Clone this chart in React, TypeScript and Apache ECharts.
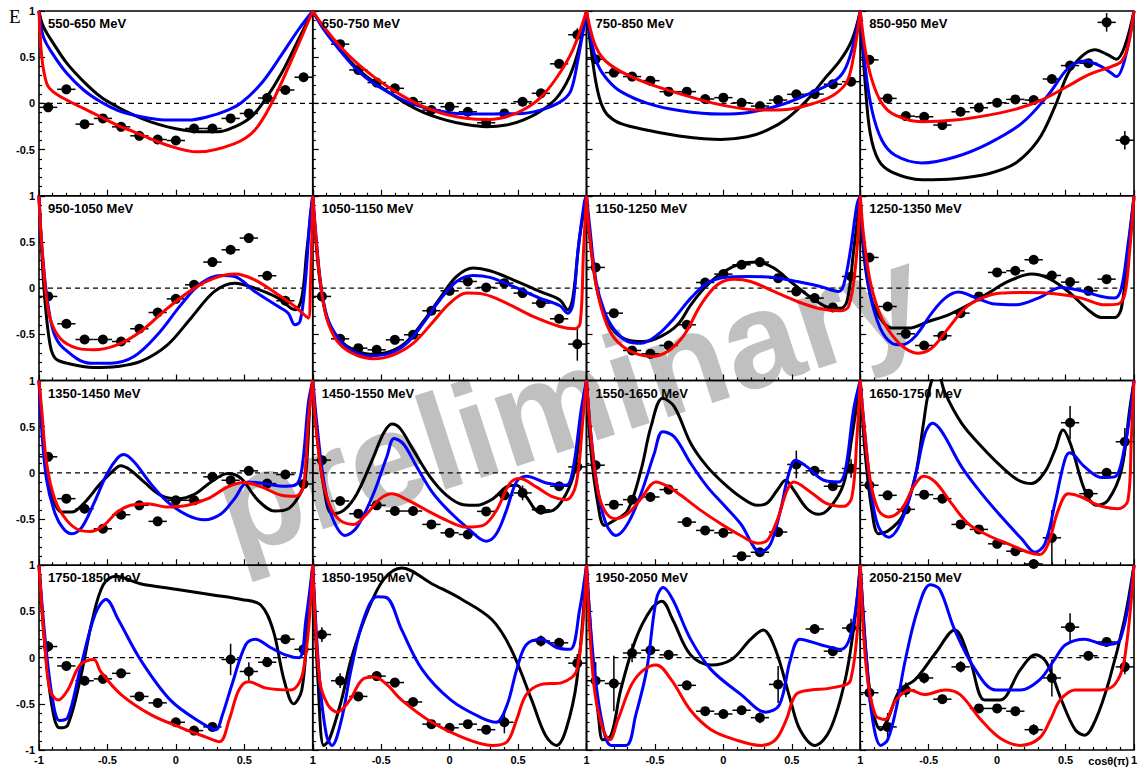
import React, { useEffect, useRef } from "react";
import * as echarts from "echarts";

type Pts = number[][];

const TITLES = [
  "550-650 MeV", "650-750 MeV", "750-850 MeV", "850-950 MeV",
  "950-1050 MeV", "1050-1150 MeV", "1150-1250 MeV", "1250-1350 MeV",
  "1350-1450 MeV", "1450-1550 MeV", "1550-1650 MeV", "1650-1750 MeV",
  "1750-1850 MeV", "1850-1950 MeV", "1950-2050 MeV", "2050-2150 MeV",
];

// data points: [cos(theta), E, vertical error]
const pts550: Pts = [[-0.933,-0.043,0.02],[-0.8,0.152,0.02],[-0.667,-0.225,0.02],[-0.533,-0.163,0.02],[-0.4,-0.254,0.02],[-0.267,-0.351,0.02],[-0.133,-0.391,0.02],[0,-0.402,0.02],[0.133,-0.272,0.02],[0.267,-0.272,0.02],[0.4,-0.163,0.02],[0.533,-0.109,0.02],[0.667,0.058,0.02],[0.8,0.145,0.02],[0.933,0.283,0.02]];
const blk550: Pts = [[-1,1],[-0.968,0.83],[-0.895,0.65],[-0.797,0.435],[-0.674,0.236],[-0.55,0.072],[-0.43,-0.036],[-0.306,-0.127],[-0.184,-0.2],[-0.061,-0.254],[0.061,-0.29],[0.184,-0.308],[0.306,-0.308],[0.429,-0.254],[0.551,-0.145],[0.65,0.036],[0.772,0.326],[0.895,0.69],[1,1]];
const blu550: Pts = [[-1,1],[-0.968,0.72],[-0.895,0.525],[-0.797,0.326],[-0.674,0.145],[-0.55,0.018],[-0.43,-0.072],[-0.306,-0.127],[-0.184,-0.163],[-0.061,-0.181],[0.086,-0.181],[0.233,-0.145],[0.38,-0.072],[0.478,0.007],[0.625,0.217],[0.772,0.525],[0.895,0.797],[1,1]];
const red550: Pts = [[-1,1],[-0.98,0.507],[-0.944,0.217],[-0.9,0.13],[-0.797,0.036],[-0.674,-0.054],[-0.55,-0.145],[-0.43,-0.235],[-0.306,-0.308],[-0.061,-0.453],[0.159,-0.525],[0.429,-0.435],[0.576,-0.29],[0.699,0.0],[0.846,0.471],[1,1]];

const pts650: Pts = [[-0.8,0.641,0.03],[-0.667,0.362,0.02],[-0.533,0.225,0.02],[-0.4,0.163,0.02],[-0.267,0.018,0.02],[-0.133,-0.072,0.02],[0,-0.036,0.02],[0.133,-0.091,0.02],[0.267,-0.21,0.02],[0.4,-0.109,0.02],[0.533,0.018,0.02],[0.667,0.109,0.02],[0.8,0.428,0.02],[0.933,0.743,0.07]];
const blk650: Pts = [[-1,1],[-0.92,0.815],[-0.8,0.58],[-0.677,0.38],[-0.556,0.235],[-0.434,0.109],[-0.313,-0.007],[-0.192,-0.098],[-0.07,-0.163],[0.051,-0.21],[0.172,-0.239],[0.269,-0.254],[0.415,-0.235],[0.536,-0.181],[0.658,-0.091],[0.779,0.054],[0.876,0.29],[0.949,0.616],[1,1]];
const blu650: Pts = [[-1,1],[-0.92,0.8],[-0.8,0.57],[-0.677,0.362],[-0.556,0.217],[-0.434,0.109],[-0.313,0.018],[-0.192,-0.043],[-0.07,-0.083],[0.051,-0.109],[0.294,-0.116],[0.536,-0.109],[0.706,-0.054],[0.828,0.036],[0.888,0.145],[0.937,0.471],[1,1]];
const red650: Pts = [[-1,1],[-0.92,0.83],[-0.8,0.616],[-0.677,0.435],[-0.556,0.29],[-0.434,0.163],[-0.313,0.054],[-0.192,-0.036],[-0.07,-0.101],[0.051,-0.145],[0.172,-0.17],[0.294,-0.174],[0.415,-0.145],[0.536,-0.072],[0.658,0.054],[0.779,0.272],[0.9,0.58],[1,1]];

const pts750: Pts = [[-0.933,0.478,0.02],[-0.8,0.333,0.02],[-0.667,0.29,0.02],[-0.533,0.246,0.02],[-0.4,0.127,0.02],[-0.267,0.127,0.02],[-0.133,0.047,0.02],[0,0.062,0.02],[0.133,0.007,0.02],[0.267,-0.029,0.02],[0.4,0.036,0.02],[0.533,0.098,0.02],[0.667,0.101,0.02],[0.8,0.207,0.02],[0.933,0.235,0.02]];
const blk750: Pts = [[-1,1],[-0.966,0.58],[-0.93,0.217],[-0.893,0],[-0.845,-0.127],[-0.748,-0.22],[-0.553,-0.29],[-0.311,-0.355],[-0.019,-0.391],[0.175,-0.362],[0.32,-0.29],[0.466,-0.163],[0.612,0.036],[0.733,0.254],[0.854,0.467],[0.939,0.685],[1,1]];
const blu750: Pts = [[-1,1],[-0.966,0.685],[-0.917,0.417],[-0.845,0.254],[-0.748,0.127],[-0.553,0],[-0.311,-0.08],[-0.019,-0.116],[0.175,-0.101],[0.417,-0.018],[0.66,0.127],[0.806,0.235],[0.879,0.344],[0.939,0.58],[1,1]];
const red750: Pts = [[-1,1],[-0.942,0.652],[-0.869,0.471],[-0.748,0.344],[-0.553,0.217],[-0.311,0.101],[-0.068,0],[0.126,-0.054],[0.272,-0.072],[0.466,-0.065],[0.66,0],[0.806,0.091],[0.903,0.235],[0.951,0.507],[1,1]];

const pts850: Pts = [[-0.933,0.471,0.02],[-0.8,0.054,0.02],[-0.667,-0.138,0.02],[-0.533,-0.145,0.02],[-0.4,-0.235,0.02],[-0.267,-0.091,0.02],[-0.133,-0.047,0.02],[0,0.007,0.02],[0.133,0.043,0.02],[0.267,0.036,0.02],[0.4,0.264,0.02],[0.533,0.409,0.02],[0.667,0.435,0.02],[0.8,0.877,0.1],[0.933,-0.399,0.1]];
const blk850: Pts = [[-1,1],[-0.964,0.217],[-0.927,-0.326],[-0.866,-0.616],[-0.769,-0.743],[-0.55,-0.826],[-0.307,-0.815],[-0.064,-0.761],[0.13,-0.652],[0.3,-0.399],[0.422,-0.036],[0.519,0.326],[0.616,0.507],[0.713,0.58],[0.81,0.525],[0.871,0.478],[0.932,0.616],[1,1]];
const blu850: Pts = [[-1,1],[-0.964,0.399],[-0.915,-0.072],[-0.842,-0.399],[-0.745,-0.562],[-0.55,-0.645],[-0.307,-0.58],[-0.064,-0.435],[0.179,-0.217],[0.373,0.091],[0.519,0.38],[0.64,0.46],[0.762,0.399],[0.835,0.326],[0.871,0.29],[0.932,0.471],[1,1]];
const red850: Pts = [[-1,1],[-0.964,0.58],[-0.915,0.254],[-0.842,0],[-0.745,-0.127],[-0.55,-0.199],[-0.307,-0.181],[-0.064,-0.127],[0.13,-0.065],[0.324,0.036],[0.519,0.188],[0.665,0.308],[0.835,0.399],[0.908,0.453],[0.956,0.616],[1,1]];

const pts950: Pts = [[-0.933,-0.09,0.02],[-0.8,-0.386,0.02],[-0.667,-0.556,0.02],[-0.533,-0.556,0.02],[-0.4,-0.578,0.02],[-0.267,-0.44,0.02],[-0.133,-0.264,0.02],[0,-0.116,0.02],[0.133,0.036,0.02],[0.267,0.282,0.02],[0.4,0.415,0.02],[0.533,0.542,0.02],[0.667,0.134,0.02],[0.8,-0.137,0.02]];
const blk950: Pts = [[-1,1],[-0.98,0.397],[-0.956,-0.144],[-0.919,-0.614],[-0.882,-0.758],[-0.797,-0.812],[-0.6,-0.859],[-0.429,-0.848],[-0.257,-0.794],[-0.061,-0.614],[0.11,-0.325],[0.282,-0.036],[0.429,0.054],[0.576,0],[0.748,-0.108],[0.87,-0.235],[0.919,-0.108],[0.956,0.397],[1,1]];
const blu950: Pts = [[-1,1],[-0.98,0.469],[-0.944,-0.072],[-0.895,-0.469],[-0.821,-0.65],[-0.625,-0.812],[-0.478,-0.812],[-0.306,-0.74],[-0.135,-0.505],[0.037,-0.181],[0.184,0.054],[0.331,0.137],[0.429,0.126],[0.576,-0.036],[0.748,-0.199],[0.821,-0.271],[0.87,-0.397],[0.907,-0.361],[0.944,0.036],[0.98,0.758],[1,1]];
const red950: Pts = [[-1,1],[-0.993,0.758],[-0.956,0.036],[-0.919,-0.325],[-0.846,-0.542],[-0.723,-0.65],[-0.6,-0.668],[-0.429,-0.614],[-0.257,-0.469],[-0.061,-0.217],[0.135,0],[0.282,0.108],[0.429,0.152],[0.576,0.09],[0.748,-0.072],[0.87,-0.199],[0.968,-0.325],[0.983,0.036],[1,0.975]];

const pts1050: Pts = [[-0.933,-0.09,0.02],[-0.8,-0.549,0.02],[-0.667,-0.65,0.02],[-0.533,-0.668,0.02],[-0.4,-0.56,0.02],[-0.267,-0.505,0.02],[-0.133,-0.245,0.02],[0,-0.029,0.02],[0.133,0.072,0.02],[0.267,0.007,0.02],[0.4,0.054,0.02],[0.533,-0.054,0.02],[0.667,-0.162,0.02],[0.8,-0.332,0.02],[0.933,-0.606,0.18]];
const blk1050: Pts = [[-1,1],[-0.981,0.578],[-0.944,0.036],[-0.896,-0.325],[-0.823,-0.523],[-0.726,-0.65],[-0.58,-0.715],[-0.434,-0.686],[-0.313,-0.578],[-0.192,-0.361],[-0.07,-0.108],[0.051,0.126],[0.172,0.217],[0.294,0.188],[0.464,0.09],[0.658,-0.036],[0.803,-0.126],[0.864,-0.235],[0.9,-0.108],[0.949,0.542],[1,1]];
const blu1050: Pts = [[-1,1],[-0.981,0.65],[-0.944,0.072],[-0.896,-0.307],[-0.823,-0.523],[-0.726,-0.668],[-0.58,-0.733],[-0.434,-0.704],[-0.313,-0.596],[-0.192,-0.379],[-0.07,-0.126],[0.051,0.072],[0.172,0.137],[0.294,0.116],[0.464,0.018],[0.658,-0.108],[0.803,-0.188],[0.864,-0.271],[0.9,-0.181],[0.937,0.397],[0.985,0.939],[1,1]];
const red1050: Pts = [[-1,1],[-0.968,0.397],[-0.932,-0.072],[-0.883,-0.397],[-0.799,-0.614],[-0.677,-0.729],[-0.556,-0.765],[-0.41,-0.722],[-0.265,-0.596],[-0.119,-0.361],[0.002,-0.162],[0.124,-0.054],[0.245,-0.065],[0.415,-0.162],[0.609,-0.307],[0.803,-0.415],[0.913,-0.44],[0.954,-0.379],[0.978,0.397],[1,1]];

const pts1150: Pts = [[-0.933,0.224,0.02],[-0.8,-0.271,0.02],[-0.667,-0.675,0.02],[-0.533,-0.711,0.02],[-0.4,-0.621,0.02],[-0.267,-0.397,0.02],[-0.133,0.061,0.02],[0,0.152,0.02],[0.133,0.253,0.02],[0.267,0.282,0.02],[0.4,0.108,0.02],[0.533,-0.036,0.02],[0.667,-0.108,0.02],[0.8,-0.209,0.02],[0.933,0.126,0.05]];
const blk1150: Pts = [[-1,1],[-0.978,0.578],[-0.93,0.036],[-0.869,-0.289],[-0.796,-0.469],[-0.699,-0.56],[-0.578,-0.578],[-0.456,-0.523],[-0.335,-0.397],[-0.238,-0.181],[-0.117,0.036],[0.005,0.181],[0.126,0.264],[0.248,0.282],[0.369,0.217],[0.49,0.072],[0.612,-0.072],[0.733,-0.188],[0.842,-0.235],[0.903,-0.144],[0.951,0.397],[1,1]];
const blu1150: Pts = [[-1,1],[-0.978,0.686],[-0.93,0.072],[-0.869,-0.253],[-0.796,-0.451],[-0.699,-0.578],[-0.602,-0.596],[-0.481,-0.505],[-0.359,-0.325],[-0.238,-0.108],[-0.117,0.054],[0.005,0.116],[0.175,0.126],[0.369,0.116],[0.539,0.072],[0.709,0.018],[0.842,-0.036],[0.879,0.036],[0.927,0.397],[0.976,0.903],[1,1]];
const red1150: Pts = [[-1,1],[-0.978,0.578],[-0.93,0.036],[-0.869,-0.325],[-0.796,-0.542],[-0.675,-0.686],[-0.529,-0.74],[-0.408,-0.686],[-0.286,-0.505],[-0.165,-0.181],[-0.044,0.036],[0.078,0.097],[0.199,0.072],[0.369,-0.036],[0.539,-0.144],[0.709,-0.224],[0.854,-0.245],[0.915,-0.199],[0.964,0.217],[1,1]];

const pts1250: Pts = [[-0.933,0.332,0.02],[-0.8,-0.199,0.02],[-0.667,-0.495,0.02],[-0.533,-0.621,0.02],[-0.4,-0.516,0.02],[-0.267,-0.271,0.02],[-0.133,-0.09,0.02],[0,0.17,0.02],[0.133,0.188,0.02],[0.267,0.307,0.02],[0.4,0.137,0.02],[0.533,0.065,0.02],[0.667,-0.029,0.02],[0.8,0.097,0.02]];
const blk1250: Pts = [[-1,1],[-0.976,0.397],[-0.927,-0.072],[-0.854,-0.325],[-0.769,-0.433],[-0.648,-0.433],[-0.502,-0.361],[-0.356,-0.289],[-0.21,-0.181],[-0.064,-0.054],[0.081,0.072],[0.252,0.152],[0.373,0.108],[0.519,-0.036],[0.665,-0.235],[0.762,-0.318],[0.859,-0.318],[0.908,-0.217],[0.956,0.397],[1,1]];
const blu1250: Pts = [[-1,1],[-0.976,0.469],[-0.927,-0.072],[-0.854,-0.433],[-0.769,-0.596],[-0.696,-0.614],[-0.599,-0.523],[-0.478,-0.271],[-0.38,-0.108],[-0.283,-0.043],[-0.162,-0.101],[-0.016,-0.173],[0.13,-0.181],[0.3,-0.108],[0.47,0.007],[0.616,-0.029],[0.762,-0.09],[0.859,-0.108],[0.908,0],[0.956,0.469],[1,0.975]];
const red1250: Pts = [[-1,1],[-0.976,0.578],[-0.927,0.072],[-0.854,-0.289],[-0.769,-0.505],[-0.672,-0.65],[-0.575,-0.704],[-0.478,-0.65],[-0.356,-0.433],[-0.234,-0.217],[-0.113,-0.108],[0.033,-0.054],[0.227,-0.047],[0.422,-0.061],[0.616,-0.108],[0.786,-0.181],[0.883,-0.173],[0.932,-0.072],[0.968,0.397],[1,1]];

const pts1350: Pts = [[-0.933,0.174,0.02],[-0.8,-0.279,0.02],[-0.667,-0.388,0.02],[-0.533,-0.605,0.02],[-0.4,-0.453,0.02],[-0.267,-0.351,0.02],[-0.133,-0.525,0.02],[0,-0.297,0.02],[0.133,-0.297,0.02],[0.267,-0.043,0.02],[0.4,-0.08,0.02],[0.533,0.022,0.02],[0.667,-0.116,0.02],[0.8,-0.018,0.02],[0.933,-0.12,0.02]];
const blk1350: Pts = [[-1,1],[-0.98,0.572],[-0.944,0.029],[-0.895,-0.297],[-0.833,-0.424],[-0.76,-0.424],[-0.674,-0.333],[-0.551,-0.116],[-0.453,0.029],[-0.404,0.076],[-0.331,0.029],[-0.233,-0.098],[-0.11,-0.243],[0.012,-0.279],[0.135,-0.232],[0.257,-0.098],[0.38,-0.007],[0.478,-0.062],[0.6,-0.297],[0.723,-0.413],[0.821,-0.388],[0.895,-0.261],[0.944,-0.08],[0.98,0.757],[1,1]];
const blu1350: Pts = [[-1,1],[-0.98,0.464],[-0.944,-0.08],[-0.882,-0.442],[-0.821,-0.605],[-0.76,-0.659],[-0.686,-0.587],[-0.6,-0.333],[-0.502,-0.007],[-0.429,0.156],[-0.38,0.199],[-0.306,0.12],[-0.184,-0.116],[-0.061,-0.315],[0.086,-0.46],[0.208,-0.507],[0.331,-0.442],[0.429,-0.279],[0.527,-0.098],[0.65,-0.116],[0.772,-0.145],[0.87,-0.134],[0.919,0.029],[0.968,0.757],[1,1]];
const red1350: Pts = [[-1,1],[-0.98,0.681],[-0.944,0.101],[-0.882,-0.297],[-0.797,-0.514],[-0.699,-0.623],[-0.625,-0.634],[-0.527,-0.569],[-0.429,-0.424],[-0.331,-0.351],[-0.208,-0.333],[-0.061,-0.37],[0.086,-0.351],[0.233,-0.279],[0.38,-0.152],[0.502,-0.105],[0.625,-0.152],[0.772,-0.243],[0.87,-0.254],[0.931,-0.152],[0.968,0.572],[1,1]];

const pts1450: Pts = [[-0.933,0.138,0.02],[-0.8,-0.304,0.02],[-0.667,-0.442,0.02],[-0.533,-0.351,0.02],[-0.4,-0.413,0.02],[-0.267,-0.413,0.02],[-0.133,-0.558,0.02],[0,-0.649,0.02],[0.133,-0.667,0.02],[0.267,-0.417,0.02],[0.4,-0.243,0.02],[0.533,-0.217,0.08],[0.667,-0.399,0.02],[0.8,-0.145,0.02],[0.933,0.065,0.02]];
const blk1450: Pts = [[-1,1],[-0.968,0.391],[-0.92,-0.152],[-0.859,-0.442],[-0.774,-0.406],[-0.677,-0.225],[-0.556,0.174],[-0.483,0.428],[-0.422,0.529],[-0.362,0.482],[-0.265,0.246],[-0.143,-0.043],[-0.022,-0.243],[0.1,-0.344],[0.197,-0.351],[0.318,-0.279],[0.415,-0.152],[0.488,-0.134],[0.561,-0.261],[0.658,-0.424],[0.755,-0.406],[0.852,-0.225],[0.913,0.029],[0.961,0.572],[1,1]];
const blu1450: Pts = [[-1,1],[-0.968,0.5],[-0.92,-0.08],[-0.859,-0.478],[-0.762,-0.678],[-0.677,-0.587],[-0.556,-0.225],[-0.459,0.174],[-0.405,0.373],[-0.337,0.312],[-0.24,0.065],[-0.119,-0.225],[0.002,-0.424],[0.124,-0.587],[0.269,-0.739],[0.342,-0.659],[0.415,-0.406],[0.488,-0.098],[0.561,-0.036],[0.706,-0.109],[0.852,-0.134],[0.9,0.029],[0.961,0.681],[1,1]];
const red1450: Pts = [[-1,1],[-0.981,0.572],[-0.932,-0.043],[-0.871,-0.37],[-0.799,-0.514],[-0.701,-0.558],[-0.604,-0.442],[-0.507,-0.279],[-0.422,-0.225],[-0.313,-0.29],[-0.167,-0.406],[-0.022,-0.514],[0.124,-0.587],[0.245,-0.569],[0.342,-0.406],[0.439,-0.116],[0.512,-0.062],[0.633,-0.152],[0.755,-0.261],[0.852,-0.29],[0.925,-0.116],[0.973,0.572],[1,1]];

const pts1550: Pts = [[-0.933,0.083,0.02],[-0.8,-0.344,0.02],[-0.667,-0.29,0.02],[-0.533,-0.261,0.02],[-0.4,-0.181,0.02],[-0.267,-0.533,0.02],[-0.133,-0.623,0.02],[0,-0.649,0.02],[0.133,-0.902,0.02],[0.267,-0.859,0.03],[0.4,-0.641,0.05],[0.533,0.091,0.15],[0.667,0.022,0.02],[0.8,-0.145,0.02],[0.933,0.047,0.1]];
const blk1550: Pts = [[-1,1],[-0.966,0.21],[-0.917,-0.333],[-0.869,-0.569],[-0.796,-0.514],[-0.699,-0.406],[-0.602,0.029],[-0.529,0.5],[-0.444,0.808],[-0.359,0.717],[-0.238,0.319],[-0.117,0.065],[0.005,-0.116],[0.126,-0.261],[0.248,-0.351],[0.32,-0.326],[0.393,-0.188],[0.454,-0.08],[0.515,-0.188],[0.612,-0.388],[0.697,-0.449],[0.782,-0.37],[0.879,-0.116],[0.939,0.391],[1,1]];
const blu1550: Pts = [[-1,1],[-0.966,0.391],[-0.917,-0.188],[-0.857,-0.551],[-0.784,-0.678],[-0.699,-0.551],[-0.602,-0.225],[-0.505,0.21],[-0.444,0.446],[-0.359,0.391],[-0.238,0.101],[-0.117,-0.152],[0.005,-0.351],[0.126,-0.551],[0.272,-0.859],[0.345,-0.768],[0.417,-0.406],[0.478,-0.007],[0.527,0.138],[0.612,0.065],[0.733,-0.08],[0.842,-0.098],[0.891,0.029],[0.951,0.681],[1,1]];
const red1550: Pts = [[-1,1],[-0.978,0.572],[-0.93,-0.08],[-0.881,-0.37],[-0.796,-0.496],[-0.699,-0.442],[-0.602,-0.279],[-0.493,-0.098],[-0.408,-0.145],[-0.311,-0.243],[-0.165,-0.406],[-0.019,-0.551],[0.126,-0.678],[0.248,-0.761],[0.32,-0.732],[0.393,-0.514],[0.466,-0.188],[0.515,-0.098],[0.636,-0.207],[0.757,-0.333],[0.879,-0.362],[0.939,-0.261],[0.976,0.391],[1,1]];

const pts1650: Pts = [[-0.933,-0.134,0.02],[-0.8,-0.243,0.02],[-0.667,-0.395,0.02],[-0.533,-0.236,0.02],[-0.4,-0.279,0.02],[-0.267,-0.558,0.02],[-0.133,-0.612,0.02],[0,-0.768,0.02],[0.133,-0.848,0.02],[0.267,-0.986,0.04],[0.4,-0.703,0.3],[0.533,0.543,0.18],[0.667,-0.225,0.05],[0.8,0.0,0.02],[0.933,0.337,0.15]];
const blk1650: Pts = [[-1,1],[-0.964,0.21],[-0.915,-0.406],[-0.866,-0.659],[-0.793,-0.623],[-0.696,-0.478],[-0.599,-0.043],[-0.538,0.536],[-0.502,0.862],[-0.44,1.12],[-0.38,0.862],[-0.259,0.536],[-0.113,0.283],[0.033,0.065],[0.155,-0.08],[0.252,-0.116],[0.349,0.011],[0.422,0.246],[0.482,0.464],[0.543,0.283],[0.64,-0.188],[0.725,-0.351],[0.81,-0.297],[0.908,0.029],[0.968,0.681],[1,1]];
const blu1650: Pts = [[-1,1],[-0.964,0.391],[-0.915,-0.261],[-0.866,-0.587],[-0.793,-0.696],[-0.696,-0.514],[-0.599,-0.043],[-0.526,0.428],[-0.472,0.536],[-0.404,0.446],[-0.259,0.065],[-0.113,-0.225],[0.033,-0.478],[0.179,-0.714],[0.276,-0.859],[0.349,-0.768],[0.422,-0.333],[0.494,0.138],[0.531,0.217],[0.64,0.065],[0.762,-0.051],[0.859,-0.043],[0.932,0.283],[0.981,0.754],[1,1]];
const red1650: Pts = [[-1,1],[-0.976,0.572],[-0.927,-0.08],[-0.866,-0.406],[-0.793,-0.478],[-0.696,-0.388],[-0.611,-0.152],[-0.538,-0.036],[-0.453,-0.098],[-0.332,-0.333],[-0.21,-0.551],[-0.064,-0.678],[0.081,-0.768],[0.227,-0.859],[0.312,-0.884],[0.373,-0.768],[0.446,-0.406],[0.519,-0.225],[0.616,-0.261],[0.738,-0.351],[0.883,-0.388],[0.956,-0.297],[0.981,0.391],[1,1]];

const pts1750: Pts = [[-0.933,0.12,0.06],[-0.8,-0.09,0.05],[-0.667,-0.25,0.05],[-0.533,-0.23,0.05],[-0.4,-0.17,0.03],[-0.267,-0.42,0.03],[-0.133,-0.49,0.03],[0,-0.7,0.03],[0.133,-0.79,0.03],[0.267,-0.75,0.05],[0.4,-0.02,0.17],[0.533,-0.15,0.1],[0.667,-0.05,0.05],[0.8,0.2,0.04],[0.933,0.09,0.06]];
const blk1750: Pts = [[-1,1],[-0.955,0.09],[-0.9,-0.57],[-0.85,-0.76],[-0.79,-0.73],[-0.7,-0.24],[-0.61,0.41],[-0.53,0.79],[-0.44,0.88],[-0.26,0.8],[0,0.74],[0.26,0.68],[0.48,0.63],[0.62,0.57],[0.71,0.3],[0.79,-0.24],[0.86,-0.5],[0.92,-0.35],[0.96,0.3],[1,1]];
const blu1750: Pts = [[-1,1],[-0.955,0.2],[-0.9,-0.46],[-0.85,-0.68],[-0.79,-0.65],[-0.7,-0.13],[-0.59,0.47],[-0.51,0.63],[-0.42,0.41],[-0.26,-0.02],[-0.04,-0.46],[0.18,-0.7],[0.29,-0.78],[0.34,-0.62],[0.41,-0.29],[0.51,0.14],[0.58,0.2],[0.69,0.11],[0.8,0.03],[0.9,0.0],[0.95,0.41],[1,1]];
const red1750: Pts = [[-1,1],[-0.955,0.09],[-0.92,-0.35],[-0.86,-0.46],[-0.79,-0.35],[-0.7,-0.08],[-0.6,-0.02],[-0.55,-0.15],[-0.4,-0.4],[-0.18,-0.62],[0.04,-0.76],[0.22,-0.86],[0.32,-0.91],[0.39,-0.67],[0.46,-0.35],[0.53,-0.26],[0.66,-0.33],[0.84,-0.35],[0.93,-0.15],[1,1]];

const pts1850: Pts = [[-0.933,0.25,0.08],[-0.8,-0.25,0.08],[-0.667,-0.42,0.05],[-0.533,-0.2,0.05],[-0.4,-0.27,0.05],[-0.267,-0.48,0.04],[-0.133,-0.72,0.03],[0,-0.76,0.03],[0.133,-0.72,0.03],[0.267,-0.78,0.05],[0.4,-0.7,0.12],[0.667,0.18,0.06],[0.8,0.16,0.05],[0.933,-0.06,0.1]];
const blk1850: Pts = [[-1,1],[-0.96,-0.3],[-0.92,-0.95],[-0.88,-0.89],[-0.79,-0.46],[-0.72,-0.02],[-0.6,0.5],[-0.48,0.85],[-0.35,0.97],[-0.13,0.8],[0.09,0.63],[0.31,0.41],[0.45,0.09],[0.6,-0.46],[0.7,-0.84],[0.78,-0.95],[0.85,-0.78],[0.93,-0.24],[1,1]];
const blu1850: Pts = [[-1,1],[-0.95,-0.24],[-0.9,-0.84],[-0.86,-0.95],[-0.79,-0.67],[-0.72,-0.13],[-0.63,0.41],[-0.53,0.66],[-0.46,0.65],[-0.35,0.3],[-0.2,-0.13],[0.01,-0.46],[0.23,-0.65],[0.34,-0.7],[0.42,-0.51],[0.49,-0.13],[0.56,0.14],[0.67,0.2],[0.78,0.11],[0.88,0.09],[0.95,0.52],[1,1]];
const red1850: Pts = [[-1,1],[-0.95,-0.24],[-0.89,-0.51],[-0.82,-0.59],[-0.73,-0.46],[-0.64,-0.24],[-0.55,-0.21],[-0.46,-0.29],[-0.35,-0.46],[-0.13,-0.7],[0.09,-0.86],[0.31,-0.95],[0.42,-0.91],[0.49,-0.67],[0.56,-0.4],[0.67,-0.29],[0.82,-0.27],[0.93,-0.13],[1,1]];

const pts1950: Pts = [[-0.933,-0.25,0.2],[-0.8,-0.28,0.3],[-0.667,0.05,0.1],[-0.533,0.08,0.05],[-0.4,0.03,0.05],[-0.267,-0.3,0.04],[-0.133,-0.58,0.03],[0,-0.61,0.03],[0.133,-0.57,0.04],[0.267,-0.65,0.06],[0.4,-0.29,0.2],[0.667,0.31,0.05],[0.8,0.07,0.05],[0.933,0.32,0.1]];
const blk1950: Pts = [[-1,1],[-0.96,0.09],[-0.91,-0.67],[-0.88,-0.89],[-0.82,-0.84],[-0.75,-0.35],[-0.64,0.2],[-0.53,0.52],[-0.45,0.61],[-0.37,0.41],[-0.24,0.03],[-0.09,-0.08],[0.06,-0.02],[0.2,0.2],[0.29,0.3],[0.38,0.09],[0.49,-0.46],[0.56,-0.78],[0.67,-0.95],[0.78,-0.78],[0.89,-0.24],[0.96,0.41],[1,1]];
const blu1950: Pts = [[-1,1],[-0.95,-0.02],[-0.89,-0.67],[-0.82,-0.95],[-0.71,-0.95],[-0.64,-0.62],[-0.56,-0.13],[-0.49,0.63],[-0.44,0.76],[-0.37,0.63],[-0.24,0.2],[-0.09,-0.13],[0.13,-0.4],[0.31,-0.59],[0.41,-0.51],[0.49,-0.02],[0.56,0.2],[0.71,0.14],[0.86,0.09],[0.94,0.3],[1,1]];
const red1950: Pts = [[-1,1],[-0.95,-0.24],[-0.89,-0.73],[-0.83,-0.89],[-0.77,-0.67],[-0.67,-0.29],[-0.58,-0.13],[-0.49,-0.08],[-0.38,-0.24],[-0.24,-0.57],[-0.09,-0.78],[0.09,-0.89],[0.27,-0.95],[0.38,-0.89],[0.46,-0.67],[0.53,-0.4],[0.64,-0.35],[0.78,-0.33],[0.93,-0.24],[1,1]];

const pts2050: Pts = [[-0.933,-0.38,0.1],[-0.8,-0.75,0.15],[-0.667,-0.35,0.08],[-0.533,-0.22,0.06],[-0.4,-0.45,0.05],[-0.267,-0.1,0.06],[-0.133,-0.55,0.04],[0,-0.55,0.04],[0.133,-0.58,0.05],[0.267,-0.78,0.06],[0.4,-0.22,0.2],[0.533,0.33,0.15],[0.667,0.02,0.05],[0.8,0.17,0.04],[0.933,-0.1,0.08]];
const blk2050: Pts = [[-1,1],[-0.96,0.09],[-0.91,-0.57],[-0.85,-0.78],[-0.8,-0.67],[-0.71,-0.35],[-0.6,-0.24],[-0.45,0.05],[-0.31,0.3],[-0.2,-0.02],[-0.09,-0.46],[0.02,-0.46],[0.17,-0.13],[0.28,0.03],[0.36,-0.05],[0.47,-0.46],[0.57,-0.78],[0.64,-0.84],[0.72,-0.67],[0.82,-0.24],[0.93,0.41],[1,1]];
const blu2050: Pts = [[-1,1],[-0.955,-0.02],[-0.91,-0.67],[-0.85,-0.95],[-0.8,-0.89],[-0.74,-0.57],[-0.67,-0.02],[-0.58,0.52],[-0.49,0.79],[-0.42,0.74],[-0.31,0.3],[-0.16,-0.13],[-0.01,-0.35],[0.17,-0.35],[0.31,-0.24],[0.42,-0.02],[0.5,0.14],[0.64,0.2],[0.79,0.14],[0.9,0.2],[1,1]];
const red2050: Pts = [[-1,1],[-0.955,-0.13],[-0.89,-0.62],[-0.82,-0.67],[-0.74,-0.46],[-0.64,-0.35],[-0.53,-0.4],[-0.38,-0.35],[-0.27,-0.4],[-0.12,-0.67],[0.02,-0.87],[0.17,-0.95],[0.31,-0.87],[0.39,-0.67],[0.46,-0.46],[0.57,-0.35],[0.75,-0.35],[0.86,-0.29],[0.93,-0.02],[1,1]];

const POINTS = [pts550, pts650, pts750, pts850, pts950, pts1050, pts1150, pts1250, pts1350, pts1450, pts1550, pts1650, pts1750, pts1850, pts1950, pts2050];
const BLACK = [blk550, blk650, blk750, blk850, blk950, blk1050, blk1150, blk1250, blk1350, blk1450, blk1550, blk1650, blk1750, blk1850, blk1950, blk2050];
const BLUE = [blu550, blu650, blu750, blu850, blu950, blu1050, blu1150, blu1250, blu1350, blu1450, blu1550, blu1650, blu1750, blu1850, blu1950, blu2050];
const RED = [red550, red650, red750, red850, red950, red1050, red1150, red1250, red1350, red1450, red1550, red1650, red1750, red1850, red1950, red2050];

const HALF_BIN = 0.0667;
const AXIS_MIN = -1;
const AXIS_MAX = 1;
const AXIS_STEP = 0.5;

const FONT = '"Liberation Sans", Arial, Helvetica, sans-serif';

function buildOption() {
  const L0 = 39, T0 = 11, W = 273.75, H = 184.75;
  const grid: any[] = [];
  const xAxis: any[] = [];
  const yAxis: any[] = [];
  const series: any[] = [];
  const graphics: any[] = [];

  TITLES.forEach((title, i) => {
    const r = Math.floor(i / 4);
    const c = i % 4;
    const left = L0 + c * W;
    const top = T0 + r * H;
    grid.push({ left, top, width: W, height: H, show: true, borderColor: "#000", borderWidth: 1.6, backgroundColor: "transparent", containLabel: false });
    const tick = { show: true, inside: true, length: 6, lineStyle: { color: "#000", width: 1.2 } };
    const minor = { show: true, splitNumber: 5, length: 3, lineStyle: { color: "#000", width: 1.2 } };
    const label = { fontFamily: FONT, fontWeight: "bold", fontSize: 11, color: "#000", margin: 4, formatter: (v: number) => String(v) };
    xAxis.push({
      gridIndex: i, type: "value", min: AXIS_MIN, max: AXIS_MAX, interval: AXIS_STEP, position: "bottom",
      axisLine: { show: false, onZero: false }, axisTick: tick, minorTick: minor, splitLine: { show: false }, minorSplitLine: { show: false },
      axisLabel: { ...label, show: r === 3, showMinLabel: c === 0, showMaxLabel: true },
    });
    yAxis.push({
      gridIndex: i, type: "value", min: AXIS_MIN, max: AXIS_MAX, interval: AXIS_STEP, position: "left",
      axisLine: { show: false, onZero: false }, axisTick: tick, minorTick: minor, splitLine: { show: false }, minorSplitLine: { show: false },
      axisLabel: { ...label, show: c === 0, showMinLabel: r === 3, showMaxLabel: true },
    });
    // zero dashed line
    series.push({
      type: "line", xAxisIndex: i, yAxisIndex: i, data: [[AXIS_MIN, 0], [AXIS_MAX, 0]], symbol: "none", silent: true,
      lineStyle: { color: "#000", width: 1.4, type: [5, 4] }, z: 1,
    });
    // error bars
    series.push({
      type: "custom", xAxisIndex: i, yAxisIndex: i, data: POINTS[i], encode: { x: 0, y: 1 }, silent: true, z: 2,
      renderItem: (_p: any, api: any) => {
        const x = api.value(0), y = api.value(1), ey = api.value(2);
        const a = api.coord([x - HALF_BIN, y]);
        const b = api.coord([x + HALF_BIN, y]);
        const cpt = api.coord([x, y - ey]);
        const d = api.coord([x, y + ey]);
        return {
          type: "group",
          children: [
            { type: "line", shape: { x1: a[0], y1: a[1], x2: b[0], y2: b[1] }, style: { stroke: "#000", lineWidth: 1.5 } },
            { type: "line", shape: { x1: cpt[0], y1: cpt[1], x2: d[0], y2: d[1] }, style: { stroke: "#000", lineWidth: 1.5 } },
          ],
        };
      },
    });
    series.push({
      type: "scatter", xAxisIndex: i, yAxisIndex: i, data: POINTS[i].map((p) => [p[0], p[1]]), symbol: "circle", symbolSize: 10,
      itemStyle: { color: "#000", opacity: 1 }, silent: true, z: 3,
    });
    const curve = (data: Pts, color: string, z: number) => ({
      type: "line", xAxisIndex: i, yAxisIndex: i, data, symbol: "none", smooth: 0.35, clip: true, silent: true, z,
      lineStyle: { color, width: 3 },
    });
    series.push(curve(BLACK[i], "#000000", 4));
    series.push(curve(BLUE[i], "#0000ff", 5));
    series.push(curve(RED[i], "#ff0000", 6));

    graphics.push({
      type: "text", left: left + 9, top: top + 6, z: 10,
      style: { text: title, font: `bold 13px ${FONT}`, fill: "#000" },
    });
  });

  graphics.push({
    type: "text", x: 569, y: 400, rotation: (18 * Math.PI) / 180, z: -5,
    style: { text: "preliminary", font: `bold 136px ${FONT}`, fill: "#c0c0c0", textAlign: "center", textVerticalAlign: "middle" },
  });
  graphics.push({
    type: "text", left: 9, top: 7, z: 10,
    style: { text: "E", font: '19px "Liberation Serif", "Times New Roman", serif', fill: "#000" },
  });
  graphics.push({
    type: "text", right: 12, top: 755, z: 10,
    style: { text: "cosθ(π)", font: `bold 11px ${FONT}`, fill: "#000" },
  });

  return {
    animation: false,
    backgroundColor: "#ffffff",
    grid, xAxis, yAxis, series,
    graphic: { elements: graphics },
  };
}

export default function App() {
  const ref = useRef<HTMLDivElement>(null);
  useEffect(() => {
    if (!ref.current) return;
    const chart = echarts.init(ref.current, undefined, { renderer: "svg" });
    chart.setOption(buildOption() as any);
    return () => chart.dispose();
  }, []);
  return <div ref={ref} style={{ position: "absolute", left: 0, top: 0, width: 1141, height: 769 }} />;
}
